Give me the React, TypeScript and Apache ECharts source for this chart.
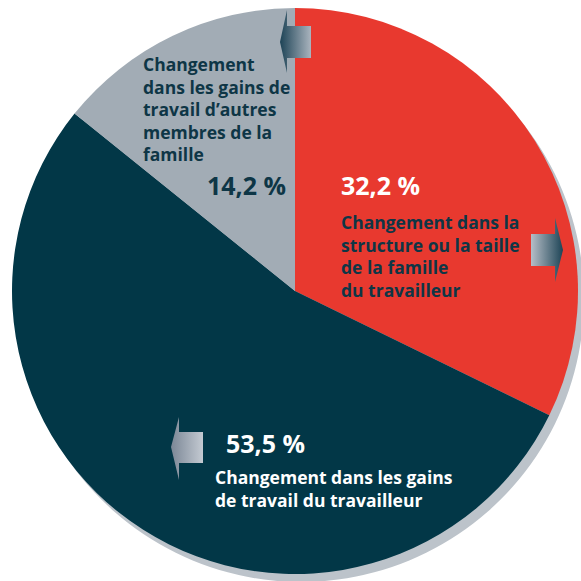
import React, { useEffect, useRef } from "react";
import * as echarts from "echarts";

const categories = [
  "Changement dans la structure ou la taille de la famille du travailleur",
  "Changement dans les gains de travail du travailleur",
  "Changement dans les gains de travail d’autres membres de la famille",
];
const values = [32.2, 53.5, 14.2];
const sliceColors = ["#E8392F", "#023747", "#A2ACB5"];
const redLines = ["Changement dans la", "structure ou la taille", "de la famille", "du travailleur"];
const darkLines = ["Changement dans les gains", "de travail du travailleur"];
const grayLines = ["Changement", "dans les gains de", "travail d’autres", "membres de la", "famille"];

const fmt = (v: number) => v.toFixed(1).replace(".", ",") + " %";
const FONT = "'Open Sans', sans-serif";
const BODY = 17.5;
const PCT = 25;

function txt(t: string, x: number, baseline: number, size: number, color: string) {
  return {
    type: "text",
    x,
    y: baseline - 0.95 * size,
    z: 10,
    style: {
      text: t,
      fill: color,
      font: `bold ${size}px ${FONT}`,
      textAlign: "left",
      textVerticalAlign: "top",
      verticalAlign: "top",
    },
  };
}

function lines(arr: string[], x: number, b0: number, dy: number, size: number, color: string) {
  return arr.map((t, i) => txt(t, x, b0 + i * dy, size, color));
}

function arrow(points: number[][], c1: string, c2: string) {
  return {
    type: "polygon",
    z: 10,
    shape: { points },
    style: {
      fill: {
        type: "linear",
        x: 0,
        y: 0,
        x2: 1,
        y2: 0,
        colorStops: [
          { offset: 0, color: c1 },
          { offset: 1, color: c2 },
        ],
      },
    },
  };
}

export default function App() {
  const ref = useRef<HTMLDivElement>(null);
  useEffect(() => {
    const chart = echarts.init(ref.current!, null, { renderer: "svg" });
    chart.setOption({
      animation: false,
      series: [
        {
          type: "pie",
          silent: true,
          center: [301, 299],
          radius: [0, 283],
          label: { show: false },
          labelLine: { show: false },
          z: 1,
          data: [{ value: 1, name: "ombre", itemStyle: { color: "#BCC3CA" } }],
        },
        {
          type: "pie",
          center: [295, 291],
          radius: [0, 283],
          startAngle: 90,
          clockwise: true,
          label: { show: false },
          labelLine: { show: false },
          z: 2,
          itemStyle: { borderWidth: 0 },
          data: categories.map((n, i) => ({
            name: n,
            value: values[i],
            itemStyle: { color: sliceColors[i] },
          })),
        },
      ],
      graphic: [
        arrow([[280, 42], [287, 10], [287, 26], [311, 26], [311, 58], [287, 58], [287, 73]], "#1d4356", "#aab4be"),
        arrow([[531, 234], [555, 234], [555, 218], [563, 250], [555, 282], [555, 266], [531, 266]], "#b6bec7", "#1d4456"),
        arrow([[171, 447], [179, 417], [179, 432], [203, 432], [203, 463], [179, 463], [179, 480]], "#7b8796", "#c4cad2"),
        txt(fmt(values[0]), 341, 196.7, PCT, "#ffffff"),
        ...lines(redLines, 341, 229.5, 22.8, BODY, "#0E3646"),
        txt(fmt(values[1]), 226, 454.3, PCT, "#ffffff"),
        ...lines(darkLines, 215, 485, 22.8, BODY, "#ffffff"),
        txt(fmt(values[2]), 207, 196.7, PCT, "#0E3646"),
        ...lines(grayLines, 143, 71.7, 22.5, BODY, "#0E3646"),
      ],
    });
    return () => chart.dispose();
  }, []);
  return (
    <div
      ref={ref}
      style={{ position: "fixed", left: 0, top: 0, width: 581, height: 581, background: "#ffffff" }}
    />
  );
}
